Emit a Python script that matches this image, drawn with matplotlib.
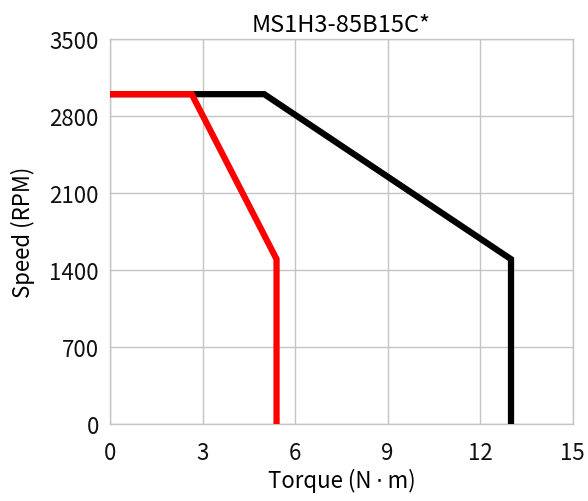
import matplotlib
matplotlib.use("Agg")
import matplotlib.pyplot as plt

plt.rcParams["font.family"] = ["Noto Sans CJK SC", "DejaVu Sans"]

# curve corner points (torque N·m, speed RPM)
black_torque = [0, 5.0, 13.0, 13.0]
black_speed = [3000, 3000, 1500, 0]
red_torque = [0, 2.65, 5.4, 5.4]
red_speed = [3000, 3000, 1500, 0]

x_ticks = [0, 3, 6, 9, 12, 15]
y_ticks = [0, 700, 1400, 2100, 2800, 3500]

fig = plt.figure(figsize=(5.88, 5.02), dpi=100)
ax = fig.add_axes([0.187, 0.153, 0.787, 0.767])

ax.plot(black_torque, black_speed, color="black", lw=4.5, solid_joinstyle="miter", zorder=3)
ax.plot(red_torque, red_speed, color="#ff0000", lw=4.5, solid_joinstyle="miter", zorder=4)

ax.set_xlim(0, 15)
ax.set_ylim(0, 3500)
ax.set_xticks(x_ticks)
ax.set_yticks(y_ticks)
ax.tick_params(length=0, labelsize=16, colors="#111111")
ax.tick_params(axis="x", pad=12)
ax.tick_params(axis="y", pad=8)
ax.grid(color="#c4c4c4", lw=1.0)
ax.set_axisbelow(True)
for s in ax.spines.values():
    s.set_color("#c4c4c4")
    s.set_linewidth(1.0)

ax.set_xlabel("Torque (N\u2009\u22c5\u2009m)", fontsize=16, labelpad=3)
ax.set_ylabel("Speed (RPM)", fontsize=16, labelpad=10)
ax.set_title("MS1H3-85B15C*", fontsize=17, pad=6)

fig.savefig("out.png", dpi=100)
